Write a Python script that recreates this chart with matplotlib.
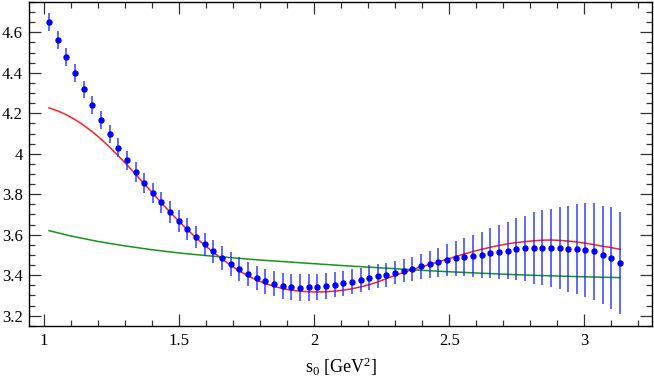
import matplotlib
matplotlib.use("Agg")
import matplotlib.pyplot as plt
from matplotlib.ticker import MultipleLocator, FuncFormatter

plt.rcParams['font.family'] = ['Liberation Serif', 'DejaVu Serif']
plt.rcParams['mathtext.fontset'] = 'custom'
plt.rcParams['mathtext.rm'] = 'Liberation Serif'
plt.rcParams['mathtext.it'] = 'Liberation Serif:italic'

# ---- data ----
s0 = [1.020, 1.052, 1.084, 1.116, 1.148, 1.180, 1.212, 1.244, 1.276, 1.308,
      1.340, 1.372, 1.404, 1.436, 1.468, 1.500, 1.532, 1.564, 1.596, 1.628,
      1.660, 1.692, 1.724, 1.756, 1.788, 1.820, 1.852, 1.884, 1.916, 1.948,
      1.980, 2.012, 2.044, 2.076, 2.108, 2.140, 2.172, 2.204, 2.236, 2.268,
      2.300, 2.332, 2.364, 2.396, 2.428, 2.460, 2.492, 2.524, 2.556, 2.588,
      2.620, 2.652, 2.684, 2.716, 2.748, 2.780, 2.812, 2.844, 2.876, 2.908,
      2.940, 2.972, 3.004, 3.036, 3.068, 3.100, 3.132]

points = [4.651, 4.563, 4.479, 4.399, 4.318, 4.241, 4.167, 4.096, 4.030, 3.968,
          3.911, 3.857, 3.806, 3.760, 3.714, 3.669, 3.628, 3.589, 3.553, 3.519,
          3.486, 3.457, 3.429, 3.406, 3.386, 3.371, 3.358, 3.348, 3.342, 3.338,
          3.340, 3.343, 3.348, 3.352, 3.360, 3.368, 3.376, 3.388, 3.396, 3.402,
          3.412, 3.422, 3.432, 3.444, 3.454, 3.464, 3.473, 3.483, 3.490, 3.495,
          3.500, 3.508, 3.516, 3.521, 3.528, 3.533, 3.534, 3.536, 3.534, 3.533,
          3.529, 3.529, 3.523, 3.519, 3.500, 3.486, 3.460]

errors = [0.043, 0.043, 0.043, 0.044, 0.044, 0.044, 0.045, 0.045, 0.046, 0.047,
          0.048, 0.049, 0.050, 0.052, 0.054, 0.055, 0.055, 0.056, 0.057, 0.057,
          0.058, 0.059, 0.060, 0.060, 0.061, 0.062, 0.063, 0.064, 0.065, 0.066,
          0.066, 0.065, 0.064, 0.062, 0.062, 0.061, 0.060, 0.060, 0.059, 0.058,
          0.057, 0.057, 0.059, 0.062, 0.066, 0.071, 0.079, 0.086, 0.096, 0.105,
          0.114, 0.123, 0.133, 0.142, 0.153, 0.162, 0.176, 0.185, 0.194, 0.203,
          0.213, 0.224, 0.232, 0.240, 0.244, 0.253, 0.254]

red_curve = [4.227, 4.212, 4.193, 4.169, 4.141, 4.109, 4.073, 4.033, 3.990, 3.946,
             3.899, 3.852, 3.805, 3.757, 3.711, 3.667, 3.625, 3.585, 3.548, 3.513,
             3.480, 3.449, 3.421, 3.397, 3.376, 3.359, 3.345, 3.334, 3.326, 3.321,
             3.318, 3.317, 3.318, 3.321, 3.326, 3.333, 3.342, 3.353, 3.367, 3.383,
             3.399, 3.414, 3.428, 3.441, 3.453, 3.466, 3.479, 3.492, 3.505, 3.517,
             3.528, 3.538, 3.547, 3.555, 3.561, 3.566, 3.570, 3.573, 3.574, 3.572,
             3.569, 3.564, 3.558, 3.551, 3.543, 3.536, 3.528]

green_x = [1.02, 1.10, 1.20, 1.30, 1.40, 1.50, 1.60, 1.70, 1.80, 1.90, 2.00,
           2.10, 2.20, 2.30, 2.40, 2.50, 2.60, 2.70, 2.80, 2.90, 3.00, 3.132]
green_curve = [3.620, 3.594, 3.567, 3.545, 3.526, 3.510, 3.497, 3.486, 3.475,
               3.466, 3.457, 3.448, 3.440, 3.432, 3.424, 3.417, 3.411, 3.405,
               3.400, 3.396, 3.392, 3.388]

# ---- figure ----
fig = plt.figure(figsize=(6.54, 3.82), dpi=100)
ax = fig.add_axes([29/654, 1-326/382, (652-29)/654, (326-2)/382])

ax.plot(s0, red_curve, color='#ff2020', lw=1.1, zorder=2)
ax.plot(green_x, green_curve, color='#14961a', lw=1.1, zorder=2)
ax.errorbar(s0, points, yerr=errors, fmt='o', color='#0000ff', ms=3.6,
            ecolor=(0.1, 0.15, 1.0, 0.75), elinewidth=1.3, capsize=0, zorder=3)

ax.set_xlim(0.946, 3.25)
ax.set_ylim(3.149, 4.75)

ax.xaxis.set_major_locator(MultipleLocator(0.5))
ax.xaxis.set_minor_locator(MultipleLocator(0.1))
ax.yaxis.set_major_locator(MultipleLocator(0.2))
ax.yaxis.set_minor_locator(MultipleLocator(0.05))
fmt = FuncFormatter(lambda v, p: '%g' % round(v, 3))
ax.xaxis.set_major_formatter(fmt)
ax.yaxis.set_major_formatter(fmt)

ax.tick_params(which='both', direction='in', top=True, right=True,
               labelsize=12, width=0.9, color='#333333')
ax.tick_params(which='major', length=8.5)
ax.tick_params(which='minor', length=4.3)
ax.tick_params(axis='x', pad=5)
ax.tick_params(axis='y', pad=4.5)
for sp in ax.spines.values():
    sp.set_linewidth(1.0)

ax.set_xlabel('s$_0$ [GeV$^2$]', fontsize=13, labelpad=5)

fig.savefig('out.png', dpi=100)
